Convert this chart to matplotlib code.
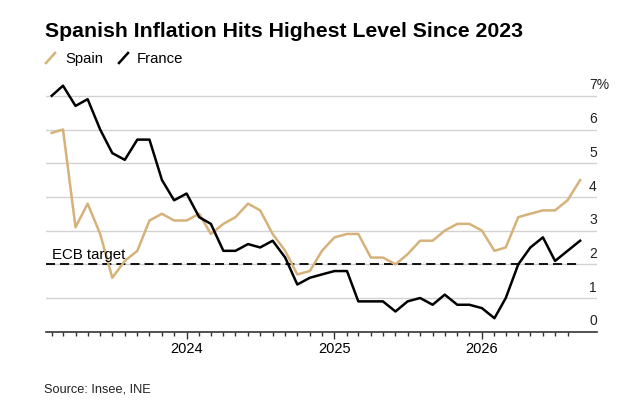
import matplotlib.pyplot as plt
from matplotlib.lines import Line2D
import pandas as pd

plt.rcParams["font.family"] = ["Liberation Sans", "DejaVu Sans"]

months = pd.date_range("2023-02-01", periods=44, freq="MS")
spain = [5.9, 6.0, 3.1, 3.8, 2.9, 1.6, 2.1, 2.4, 3.3, 3.5, 3.3, 3.3,
         3.5, 2.9, 3.2, 3.4, 3.8, 3.6, 2.9, 2.4, 1.7, 1.8, 2.4, 2.8,
         2.9, 2.9, 2.2, 2.2, 2.0, 2.3, 2.7, 2.7, 3.0, 3.2, 3.2, 3.0,
         2.4, 2.5, 3.4, 3.5, 3.6, 3.6, 3.9, 4.5]
france = [7.0, 7.3, 6.7, 6.9, 6.0, 5.3, 5.1, 5.7, 5.7, 4.5, 3.9, 4.1,
          3.4, 3.2, 2.4, 2.4, 2.6, 2.5, 2.7, 2.2, 1.4, 1.6, 1.7, 1.8,
          1.8, 0.9, 0.9, 0.9, 0.6, 0.9, 1.0, 0.8, 1.1, 0.8, 0.8, 0.7,
          0.4, 1.0, 2.0, 2.5, 2.8, 2.1, 2.4, 2.7]
y_ticks = [0, 1, 2, 3, 4, 5, 6, 7]
y_labels = ["0", "1", "2", "3", "4", "5", "6", "7%"]
year_ticks = ["2024-01-01", "2025-01-01", "2026-01-01"]
year_labels = ["2024", "2025", "2026"]
ecb_target = 2.0

SPAIN_COLOUR = "#d6b27a"
FRANCE_COLOUR = "#000000"
W, H = 642, 410


def fx(px):
    return px / W


def fy(py):
    return 1 - py / H


fig = plt.figure(figsize=(W / 100, H / 100), dpi=100)
ax = fig.add_axes([0.0717, 0.1885, 0.8583, 0.6165])

for v in y_ticks[1:]:
    ax.axhline(v, color="#d2d2d2", lw=1.0, zorder=0)

ax.plot(months, spain, color=SPAIN_COLOUR, lw=1.8, zorder=3)
ax.plot(months, france, color=FRANCE_COLOUR, lw=1.8, zorder=4)

x_left = months[0] - pd.Timedelta(days=14)
ax.plot([x_left, months[-1]], [ecb_target] * 2,
        color="black", lw=1.3, ls=(0, (5, 2.8)), zorder=2)
ax.annotate("ECB target", xy=(months[0], ecb_target), xytext=(0, 4.5),
            textcoords="offset points", fontsize=10.8,
            ha="left", va="baseline", zorder=5)

ax.set_ylim(0, 7.5)
ax.set_xlim(x_left, months[-1] + pd.Timedelta(days=42))

for v, lab in zip(y_ticks, y_labels):
    ax.annotate(lab, xy=(0.9855, v), xycoords=ax.get_yaxis_transform(),
                xytext=(0, 5.3), textcoords="offset points",
                fontsize=10, ha="left", va="baseline", color="#222222")

ax.set_yticks([])
ax.set_xticks(pd.to_datetime(year_ticks))
ax.set_xticklabels(year_labels, fontsize=10.5)
ax.set_xticks(months[:-1], minor=True)
ax.tick_params(axis="x", which="major", length=5, width=1, color="#333333", pad=1.8)
ax.tick_params(axis="x", which="minor", length=2.7, width=1, color="#333333")

for side in ["top", "right", "left"]:
    ax.spines[side].set_visible(False)
ax.spines["bottom"].set_color("#333333")
ax.spines["bottom"].set_linewidth(1.2)

fig.text(fx(45), fy(37.3), "Spanish Inflation Hits Highest Level Since 2023",
         fontsize=15.3, fontweight="bold", ha="left", va="baseline")

fig.add_artist(Line2D([fx(46), fx(55)], [fy(64), fy(54)],
                      color=SPAIN_COLOUR, lw=1.8))
fig.text(fx(65), fy(63.3), "Spain", fontsize=10.7, ha="left", va="baseline")
fig.add_artist(Line2D([fx(119), fx(128)], [fy(64), fy(54)],
                      color=FRANCE_COLOUR, lw=1.8))
fig.text(fx(137), fy(63.3), "France", fontsize=10.7, ha="left", va="baseline")

fig.text(fx(44), fy(392.3), "Source: Insee, INE", fontsize=9.2,
         ha="left", va="baseline", color="#222222")

fig.savefig("out.png", dpi=100)
